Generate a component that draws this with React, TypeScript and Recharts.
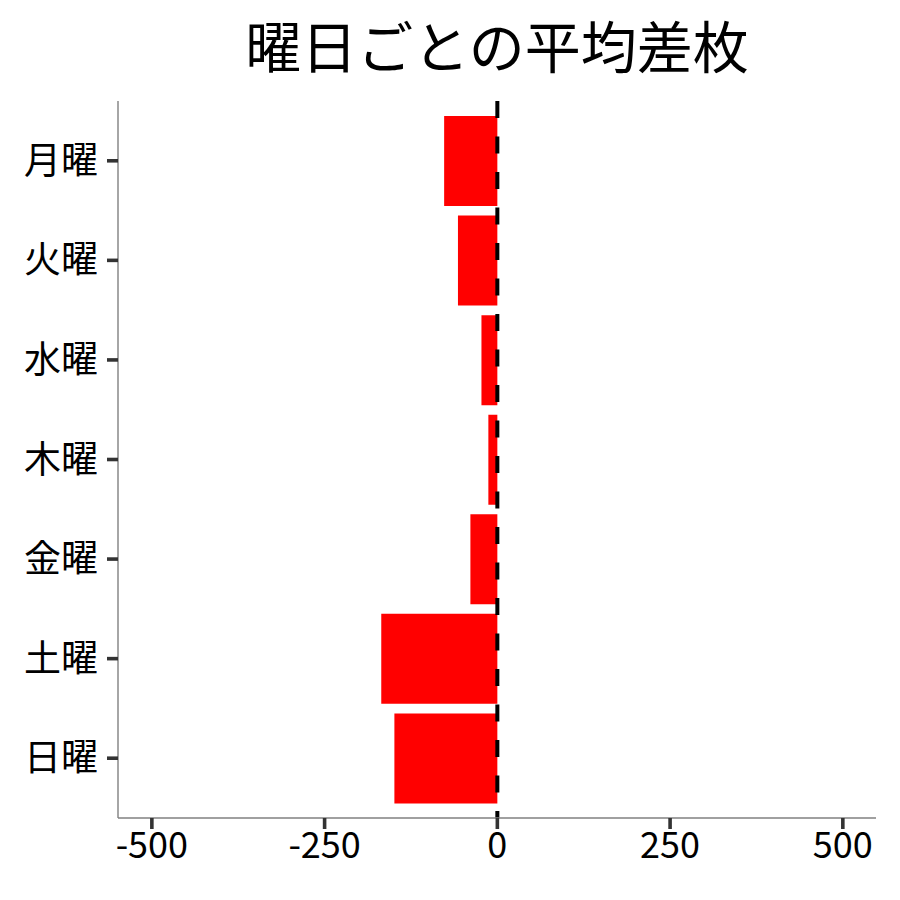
import { BarChart, Bar, XAxis, YAxis, ReferenceLine } from "recharts";

const days = ["月曜", "火曜", "水曜", "木曜", "金曜", "土曜", "日曜"];
const avgDiff = [-77, -57, -23, -13, -39, -168, -149];
const xTicks = [-500, -250, 0, 250, 500];

const data = days.map((day, i) => ({ day, value: avgDiff[i] }));

const FONT = "'Noto Sans CJK JP', 'Noto Sans', sans-serif";

export default function App() {
  return (
    <div
      style={{
        position: "absolute",
        left: 0,
        top: 0,
        width: 900,
        height: 900,
        background: "#ffffff",
        fontFamily: FONT,
      }}
    >
      <div
        style={{
          position: "absolute",
          left: 118,
          width: 758,
          top: 4,
          textAlign: "center",
          fontSize: 56,
          color: "#000",
          lineHeight: "80px",
        }}
      >
        曜日ごとの平均差枚
      </div>
      <BarChart
        width={900}
        height={900}
        data={data}
        layout="vertical"
        margin={{ top: 101, right: 24, bottom: 0, left: 0 }}
      >
        <XAxis
          type="number"
          domain={[-549, 548]}
          ticks={xTicks}
          allowDataOverflow
          height={82}
          axisLine={{ stroke: "#808080", strokeWidth: 1.4 }}
          tickLine={{ stroke: "#333333", strokeWidth: 3.6 }}
          tickSize={11}
          tickMargin={3}
          tick={{ fontSize: 36, fill: "#000", fontFamily: FONT }}
        />
        <YAxis
          type="category"
          dataKey="day"
          width={118}
          padding={{ top: 10, bottom: 10 }}
          axisLine={{ stroke: "#808080", strokeWidth: 1.4 }}
          tickLine={{ stroke: "#333333", strokeWidth: 3.6 }}
          tickSize={11}
          tickMargin={9}
          tick={{ fontSize: 37, fill: "#000", fontFamily: FONT }}
        />
        <Bar dataKey="value" fill="#ff0000" barSize={90} isAnimationActive={false} />
        <ReferenceLine
          x={0}
          stroke="#000000"
          strokeWidth={4}
          strokeDasharray="17 18.5"
          strokeDashoffset={10}
        />
      </BarChart>
    </div>
  );
}
